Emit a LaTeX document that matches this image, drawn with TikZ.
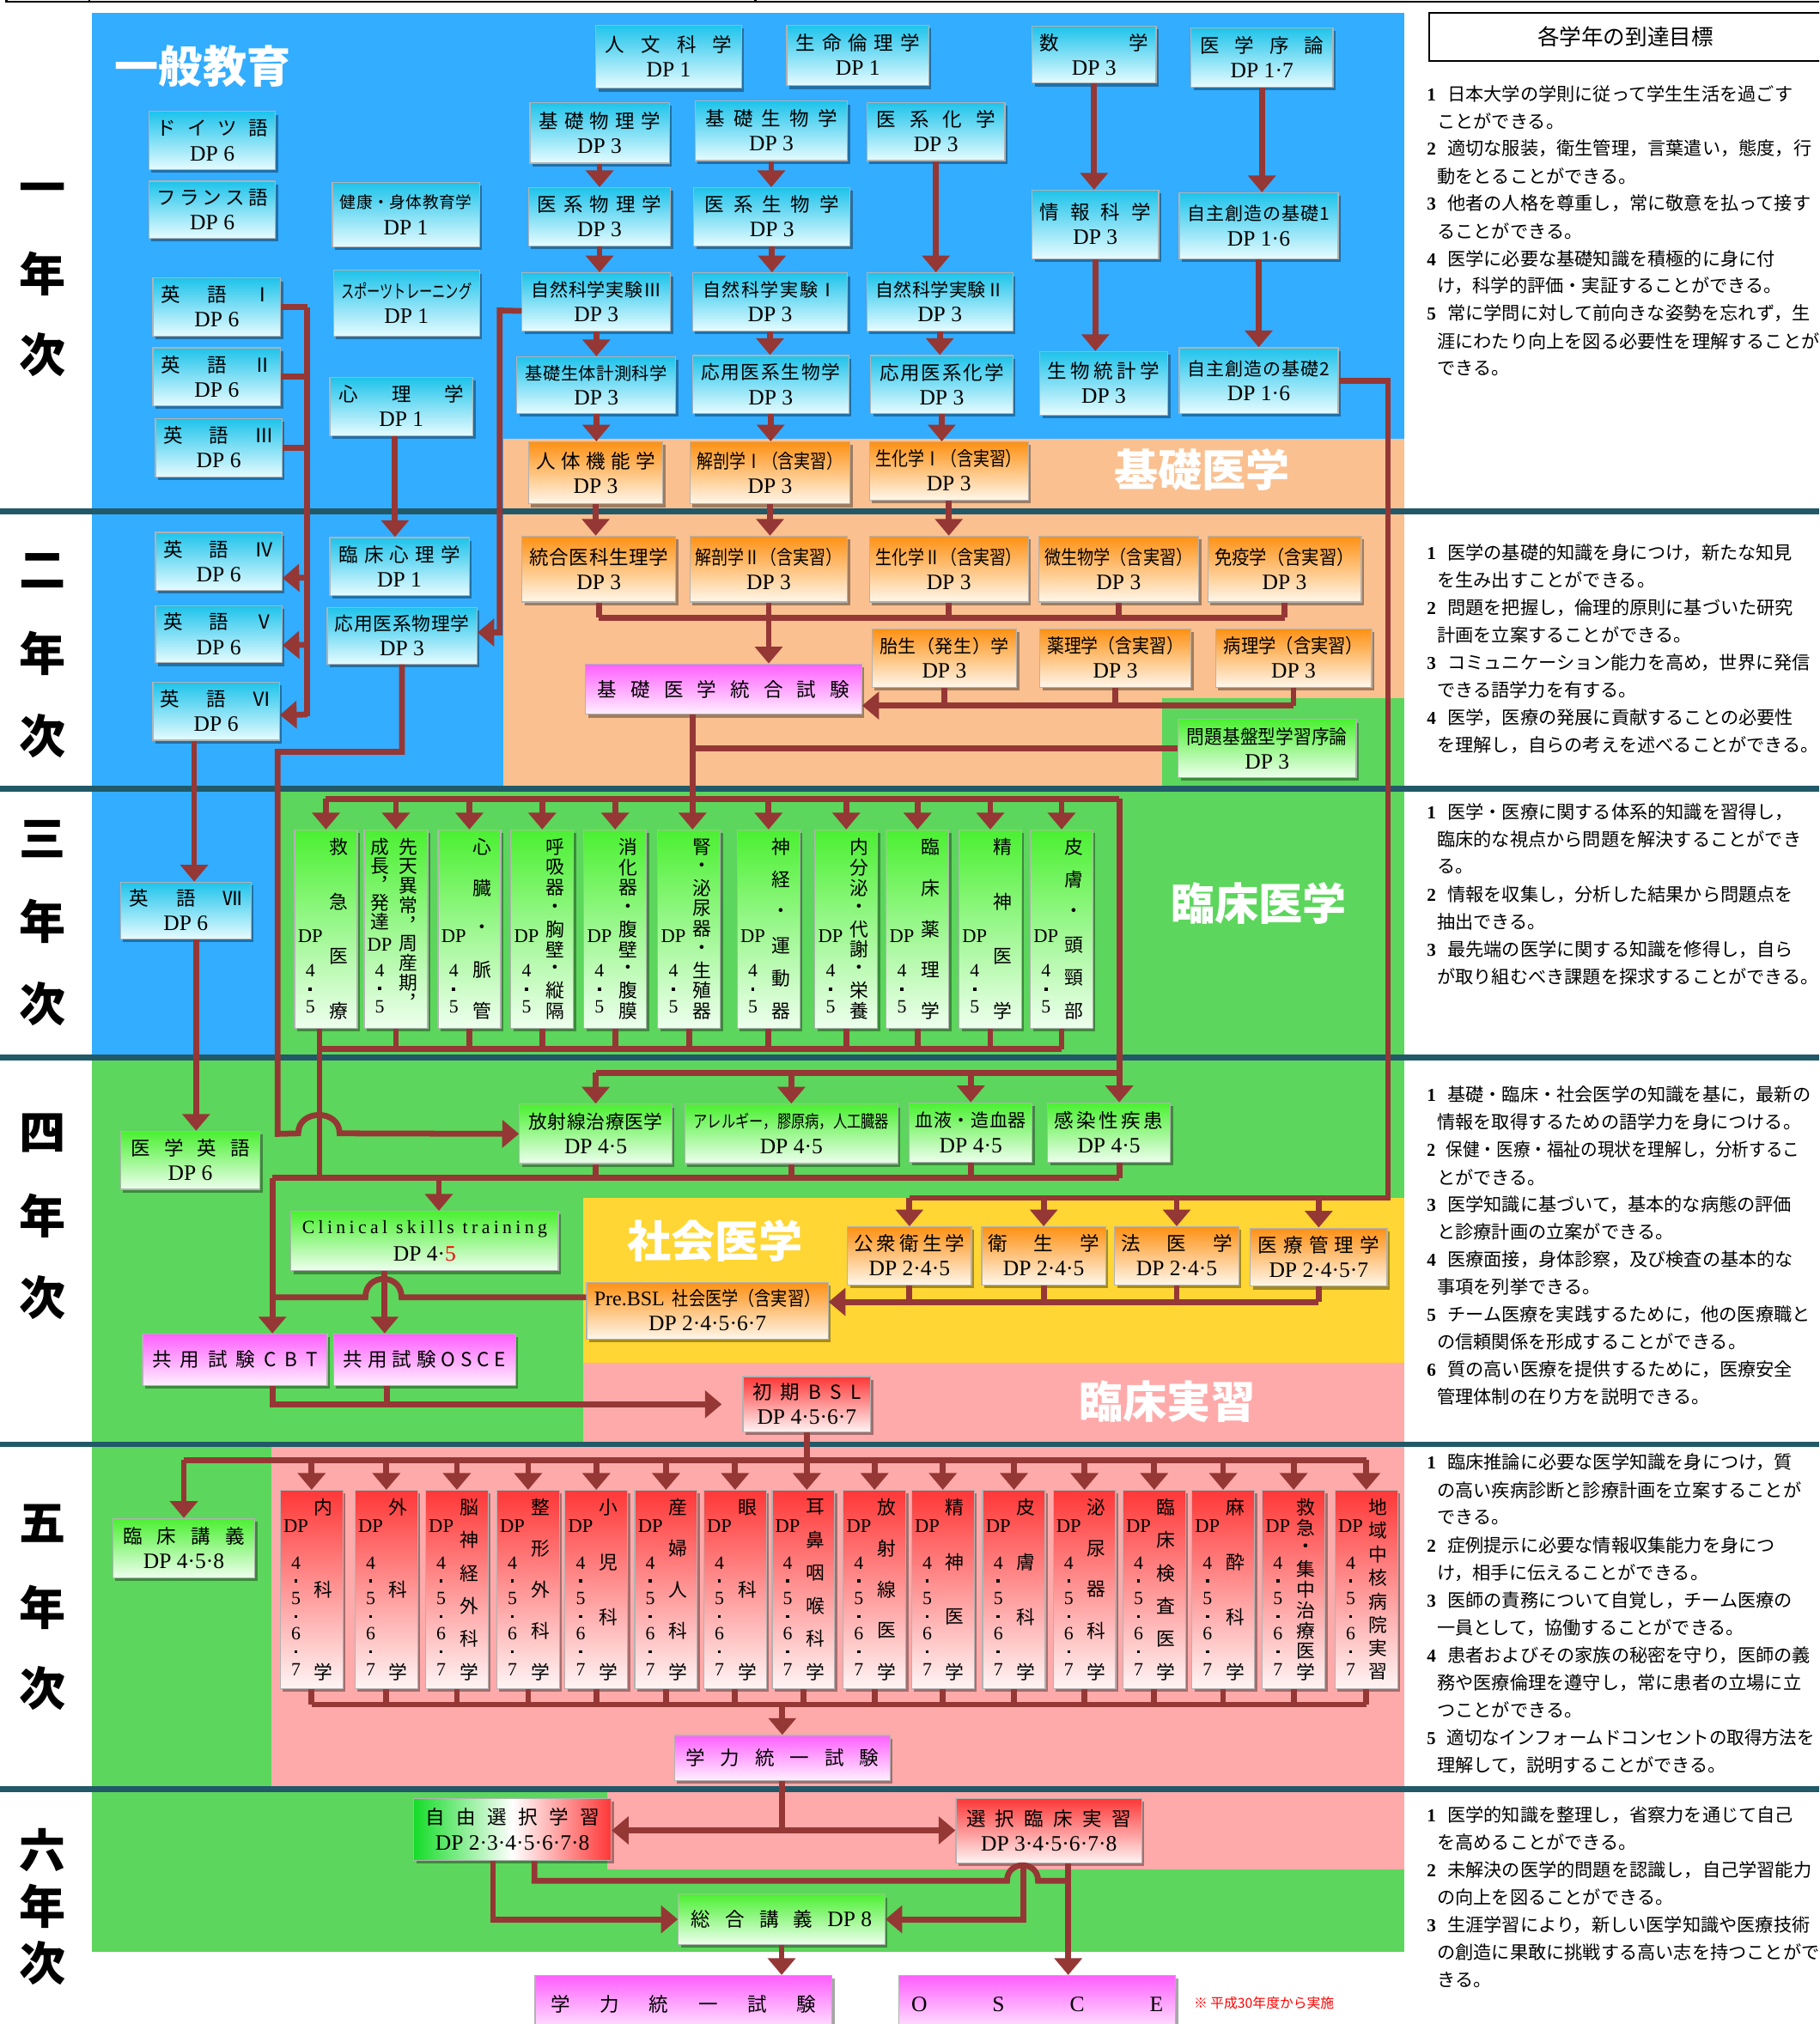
\documentclass[tikz,border=0pt]{standalone}
\usepackage{fontspec}
\usepackage{graphicx}
\setmainfont{Noto Sans CJK JP}
\newfontfamily\dpf{Liberation Serif}
\newfontfamily\dpfls[LetterSpace=20]{Liberation Serif}
\usetikzlibrary{arrows.meta,shadows}
\definecolor{bgBlue}{RGB}{51,173,255}
\definecolor{bgOrange}{RGB}{250,192,144}
\definecolor{bgGreen}{RGB}{92,214,92}
\definecolor{bgYellow}{RGB}{255,214,51}
\definecolor{bgPink}{RGB}{255,170,170}
\definecolor{sepC}{RGB}{33,89,104}
\definecolor{conC}{RGB}{149,55,53}
\definecolor{bTop}{RGB}{30,195,235}
\definecolor{bBot}{RGB}{230,252,255}
\definecolor{oTop}{RGB}{255,145,20}
\definecolor{oBot}{RGB}{255,247,235}
\definecolor{gTop}{RGB}{75,240,50}
\definecolor{gBot}{RGB}{238,255,238}
\definecolor{pTop}{RGB}{255,95,255}
\definecolor{pBot}{RGB}{255,240,255}
\definecolor{rTop}{RGB}{255,55,55}
\definecolor{rBot}{RGB}{255,245,245}
\definecolor{jG}{RGB}{20,220,40}
\newcommand\fs[1]{\fontsize{#1}{#1}\selectfont}
\def\sprEnd{\relax}
\def\sprA#1#2{#1\ifx\sprEnd#2\else\hfill\expandafter\sprA\expandafter#2\fi}
\newcommand\spr[2]{\makebox[#1pt][s]{\sprA#2\sprEnd}}
\newcommand\cnd[2]{\scalebox{#1}[1]{\fs{15}#2}}
\newcommand\dpn[1]{{\dpf\fs{17}DP #1}}
\newcommand\gnum[1]{\makebox[16pt][l]{\dpf\bfseries #1}}
\newcommand\gcont{\hspace*{8pt}}
\newcommand\dpdot{\rule{2.4pt}{2.4pt}}
\tikzset{
 box/.style={draw=black!30,line width=0.8pt,inner sep=0pt,drop shadow={shadow xshift=2pt,shadow yshift=-2.5pt,opacity=0.35,fill=black}},
 bb/.style={box,top color=bTop,bottom color=bBot},
 ob/.style={box,top color=oTop,bottom color=oBot},
 gb/.style={box,top color=gTop,bottom color=gBot},
 pb/.style={box,top color=pTop,bottom color=pBot},
 rb/.style={box,top color=rTop,bottom color=rBot},
 jb/.style={box,left color=jG,right color=rTop,middle color=white},
 txt/.style={inner sep=0pt,font=\fs{15}},
 vtxt/.style={inner sep=0pt,font=\fs{14.5}},
 dptxt/.style={inner sep=0pt,font=\dpf\fs{15}},
 hd/.style={inner sep=0pt,font=\fs{34}\bfseries,text=white},
 yl/.style={inner sep=0pt,font=\fs{36}\bfseries},
 goal/.style={anchor=west,inner sep=0pt,font=\fs{14.1}},
 conn/.style={draw=conC,line width=4.5pt},
 sep/.style={draw=sepC,line width=4.5pt},
}
\newcommand\bx[8]{%
  \node[#1,minimum width={#5-#3},minimum height={#6-#4},anchor=north west] (#2) at (#3,#4) {};
  \node[txt] (#2a) at ([yshift=9.5pt]#2.center) {#7};
  \node[txt] (#2b) at ([yshift=-10pt]#2.center) {#8};}
\newcommand\bxo[7]{%
  \node[#1,minimum width={#5-#3},minimum height={#6-#4},anchor=north west] (#2) at (#3,#4) {};
  \node[txt] (#2a) at (#2.center) {#7};}
% vertical column of characters: name, x, y of first centre, y of last centre, count, list
\newcommand\vcol[6]{%
  \pgfmathsetmacro\vstep{(#4-#3)/(#5-1)}%
  \node[vtxt,anchor=north] (#1) at ({#2},{#3-\vstep/2}) {\vbox{\offinterlineskip\foreach \ch in {#6}{\vbox to \vstep pt{\vss\hbox to 1.2em{\hss\ch\hss}\vss}}}};}
\newcommand\ythree[4]{%
  \node[gb,minimum width=48.5,minimum height=153.5,anchor=north west] (#1) at (#2,642.6) {};
  \vcol{#1r}{#2+34.5}{656}{783}{#3}{#4}%
  \node[dptxt] (#1d) at ({#2+12.5},725) {DP};
  \vcol{#1n}{#2+12.5}{752}{780}{3}{{\dpf 4},\dpdot,{\dpf 5}}}
\newcommand\yfive[4]{%
  \node[rb,minimum width=48.5,minimum height=153.7,anchor=north west] (#1) at (#2,1154.2) {};
  \vcol{#1r}{#2+34}{1167.5}{1295}{#3}{#4}%
  \node[dptxt] (#1d) at ({#2+12.5},1182) {DP};
  \vcol{#1n}{#2+12.5}{1211}{1293}{7}{{\dpf 4},\dpdot,{\dpf 5},\dpdot,{\dpf 6},\dpdot,{\dpf 7}}}
\newcommand\goals[3]{\foreach \gline [count=\i] in {#3}{\node[goal] (#1\i) at (1105,{#2+(\i-1)*21.3}) {\gline};}}
\newcommand\vdown[2]{\draw[conn,->] (#1.south) -- (#1.south |- #2.north);}
\begin{document}
\begin{tikzpicture}[x=1pt,y=-1pt,>={Triangle[width=21pt,length=13pt]},line join=miter]
\useasboundingbox (0,0) rectangle (1409,1568);
\clip (0,0) rectangle (1409,1568);
\fill[white] (0,0) rectangle (1409,1568);
% backgrounds
\fill[bgBlue] (71,10) rectangle (1088,396);
\fill[bgOrange] (390,340) rectangle (1088,396);
\fill[bgBlue] (71,396) rectangle (390,611);
\fill[bgOrange] (390,396) rectangle (1088,611);
\fill[bgGreen] (900,541) rectangle (1088,611);
\fill[bgBlue] (71,611) rectangle (213,819);
\fill[bgGreen] (213,611) rectangle (1088,819);
\fill[bgGreen] (71,819) rectangle (1088,928);
\fill[bgGreen] (71,928) rectangle (452,1119);
\fill[bgYellow] (452,928) rectangle (1088,1056);
\fill[bgPink] (452,1056) rectangle (1088,1119);
\fill[bgGreen] (71,1119) rectangle (210,1386);
\fill[bgPink] (210,1119) rectangle (1088,1386);
\fill[bgGreen] (71,1386) rectangle (1088,1512);
\fill[bgPink] (470,1386) rectangle (1088,1448);
\foreach \y in {396,611,819.5,1119,1386} \draw[sep] (0,\y) -- (1409,\y);
\draw[line width=1.5pt] (5,0) -- (5,1.5) -- (1409,1.5);
\draw[line width=1.5pt] (69,0) -- (69,1.5) (585,0) -- (585,1.5);
% header
\draw[line width=1.3pt] (1107,10) rectangle (1430,47);
\node[inner sep=0pt,font=\fs{17}] (hdr) at (1259,28.5) {各学年の到達目標};
% headings
\node[hd] (hd1) at (157,51) {一般教育};
\node[hd] (hd2) at (931,364) {基礎医学};
\node[hd] (hd3) at (975,700) {臨床医学};
\node[hd] (hd4) at (554,961) {社会医学};
\node[hd] (hd5) at (904,1086) {臨床実習};
% year labels
\foreach \t/\y [count=\k] in {一/150,年/212,次/275,二/442,年/506,次/570,三/650,年/714,次/778,四/878,年/942,次/1005,五/1180,年/1245,次/1308,六/1433,年/1477,次/1521}{
  \node[yl] (yl\k) at (33,\y) {\t};}
% ===== Year 1 boxes
\bx{bb}{doitsu}{115}{86}{213}{131}{\spr{86}{ドイツ語}}{\dpn{6}}
\bx{bb}{french}{115}{140}{213}{184}{\spr{86}{フランス語}}{\dpn{6}}
\bx{bb}{eng1}{118}{215}{217}{260}{\spr{86}{英語Ⅰ}}{\dpn{6}}
\bx{bb}{eng2}{118}{269}{217}{314}{\spr{86}{英語Ⅱ}}{\dpn{6}}
\bx{bb}{eng3}{120}{324}{218}{369}{\spr{86}{英語Ⅲ}}{\dpn{6}}
\bx{bb}{kenko}{257}{141}{371}{191}{\fs{12.5}\spr{102}{健康・身体教育学}}{\dpn{1}}
\bx{bb}{sports}{258}{209}{371}{260}{\scalebox{0.7}[1]{\fs{14.5}スポーツトレーニング}}{\dpn{1}}
\bx{bb}{shinri}{255}{292}{366}{337}{\spr{97}{心理学}}{\dpn{1}}
\bx{bb}{jinbun}{461}{19}{574}{68}{\spr{98}{人文科学}}{\dpn{1}}
\bx{bb}{seimei}{609}{19}{719}{66}{\spr{96}{生命倫理学}}{\dpn{1}}
\bx{bb}{kisobutsuri}{410}{79}{518}{126}{\spr{94}{基礎物理学}}{\dpn{3}}
\bx{bb}{kisoseibutsu}{538}{78}{656}{124}{\spr{102}{基礎生物学}}{\dpn{3}}
\bx{bb}{ikeikagaku}{671}{79}{778}{124}{\spr{92}{医系化学}}{\dpn{3}}
\bx{bb}{ikeibutsuri}{409}{145}{519}{190}{\spr{96}{医系物理学}}{\dpn{3}}
\bx{bb}{ikeiseibutsu}{537}{145}{658}{190}{\spr{104}{医系生物学}}{\dpn{3}}
\bx{bb}{shizen3}{404}{211}{519}{256}{\fs{14}\spr{101}{自然科学実験Ⅲ}}{\dpn{3}}
\bx{bb}{shizen1}{536}{211}{656}{256}{\fs{14}\spr{104}{自然科学実験Ⅰ}}{\dpn{3}}
\bx{bb}{shizen2}{671}{211}{784}{256}{\fs{14}\spr{100}{自然科学実験Ⅱ}}{\dpn{3}}
\bx{bb}{kisoseitai}{400}{276}{523}{320}{\fs{13.5}\spr{110}{基礎生体計測科学}}{\dpn{3}}
\bx{bb}{oyoseibutsu}{536}{275}{657}{320}{\fs{14.5}\spr{108}{応用医系生物学}}{\dpn{3}}
\bx{bb}{oyokagaku}{674}{275}{784}{320}{\spr{96}{応用医系化学}}{\dpn{3}}
\bx{bb}{sugaku}{799}{20}{895}{64}{\spr{84}{数学}}{\dpn{3}}
\bx{bb}{igakujoron}{922}{21}{1032}{67}{\spr{96}{医学序論}}{\dpn{1·7}}
\bx{bb}{joho}{799}{147}{897}{200}{\spr{86}{情報科学}}{\dpn{3}}
\bx{bb}{jishu1}{913}{149}{1036}{200}{\fs{14}\spr{110}{自主創造の基礎1}}{\dpn{1·6}}
\bx{bb}{seibututokei}{805}{272}{904}{321}{\spr{87}{生物統計学}}{\dpn{3}}
\bx{bb}{jishu2}{913}{269}{1036}{320}{\fs{14}\spr{110}{自主創造の基礎2}}{\dpn{1·6}}
\bx{ob}{jintai}{409}{342}{513}{390}{\spr{92}{人体機能学}}{\dpn{3}}
\bx{ob}{kaibou1}{534}{342}{658}{390}{\cnd{0.84}{解剖学Ⅰ（含実習）}}{\dpn{3}}
\bx{ob}{seika1}{673}{342}{796}{387}{\cnd{0.84}{生化学Ⅰ（含実習）}}{\dpn{3}}
% ===== Year 2 boxes
\bx{bb}{eng4}{120}{412}{218}{457}{\spr{86}{英語Ⅳ}}{\dpn{6}}
\bx{bb}{eng5}{120}{469}{218}{513}{\spr{86}{英語Ⅴ}}{\dpn{6}}
\bx{bb}{eng6}{118}{528}{216}{573}{\spr{86}{英語Ⅵ}}{\dpn{6}}
\bx{bb}{rinshoshinri}{255}{416}{363}{461}{\spr{94}{臨床心理学}}{\dpn{1}}
\bx{bb}{oyobutsuri}{253}{470}{369}{514}{\fs{14.5}\spr{104}{応用医系物理学}}{\dpn{3}}
\bx{ob}{togo}{404}{415}{523}{466}{\spr{108}{統合医科生理学}}{\dpn{3}}
\bx{ob}{kaibou2}{534}{415}{656}{466}{\cnd{0.84}{解剖学Ⅱ（含実習）}}{\dpn{3}}
\bx{ob}{seika2}{673}{415}{796}{466}{\cnd{0.84}{生化学Ⅱ（含実習）}}{\dpn{3}}
\bx{ob}{biseibutsu}{804}{415}{928}{466}{\cnd{0.85}{微生物学（含実習）}}{\dpn{3}}
\bx{ob}{meneki}{935}{415}{1054}{466}{\cnd{0.9}{免疫学（含実習）}}{\dpn{3}}
\bx{ob}{taisei}{675}{487}{787}{532}{\fs{14}\spr{100}{胎生（発生）学}}{\dpn{3}}
\bx{ob}{yakuri}{805}{487}{922}{532}{\cnd{0.88}{薬理学（含実習）}}{\dpn{3}}
\bx{ob}{byori}{941}{487}{1062}{532}{\cnd{0.9}{病理学（含実習）}}{\dpn{3}}
\bxo{pb}{kisotogo}{453}{514}{667}{553}{\spr{195}{基礎医学統合試験}}
\bx{gb}{mondai}{912}{557}{1050}{602}{\cnd{0.92}{問題基盤型学習序論}}{\dpn{3}}
% ===== Year 3 boxes
\bx{bb}{eng7}{93}{683}{194}{727}{\spr{88}{英語Ⅶ}}{\dpn{6}}
\ythree{y3b1}{227.8}{4}{救,急,医,療}
\node[gb,minimum width=49.3,minimum height=153.5,anchor=north west] (y3b2) at (281.6,642.6) {};
\vcol{y3b2r}{281.6+34.5}{656}{776}{9}{先,天,異,常,︐,周,産,期,︐}
\vcol{y3b2l}{281.6+12.5}{656}{714}{5}{成,長,︐,発,達}
\node[dptxt] (y3b2d) at (294.1,731.8) {DP};
\vcol{y3b2n}{294.1}{751.7}{779.5}{3}{{\dpf 4},\dpdot,{\dpf 5}}
\ythree{y3b3}{338.9}{5}{心,臓,・,脈,管}
\ythree{y3b4}{395.3}{9}{呼,吸,器,・,胸,壁,・,縦,隔}
\ythree{y3b5}{451.8}{9}{消,化,器,・,腹,壁,・,腹,膜}
\ythree{y3b6}{509.1}{9}{腎,・,泌,尿,器,・,生,殖,器}
\ythree{y3b7}{570.6}{6}{神,経,・,運,動,器}
\ythree{y3b8}{630.8}{9}{内,分,泌,・,代,謝,・,栄,養}
\ythree{y3b9}{686}{5}{臨,床,薬,理,学}
\ythree{y3b10}{742.4}{4}{精,神,医,学}
\ythree{y3b11}{797.6}{6}{皮,膚,・,頭,頸,部}
% ===== Year 4 boxes
\bx{gb}{igakueigo}{93}{876}{201}{921}{\spr{92}{医学英語}}{\dpn{6}}
\bx{gb}{hoshasen}{402}{855}{520}{901}{\fs{14.5}\spr{104}{放射線治療医学}}{\dpn{4·5}}
\bx{gb}{allergy}{530}{855}{695}{901}{\scalebox{0.8}[1]{\fs{13.5}アレルギー，膠原病，人工臓器}}{\dpn{4·5}}
\bx{gb}{ketsueki}{704}{854}{799}{900}{\fs{14}\spr{86}{血液・造血器}}{\dpn{4·5}}
\bx{gb}{kansen}{811}{854}{906}{900}{\spr{84}{感染性疾患}}{\dpn{4·5}}
\bx{gb}{clinical}{225}{938}{432}{984}{{\dpfls\fs{14.5}Clinical skills training}}{{\dpf\fs{17}DP 4·\textcolor{red}{5}}}
\bx{ob}{kosyu}{656}{950}{752}{995}{\spr{86}{公衆衛生学}}{\dpn{2·4·5}}
\bx{ob}{eisei}{760}{950}{856}{995}{\spr{86}{衛生学}}{\dpn{2·4·5}}
\bx{ob}{hoi}{863}{950}{959}{995}{\spr{86}{法医学}}{\dpn{2·4·5}}
\bx{ob}{iryokanri}{968}{951}{1074}{996}{\spr{94}{医療管理学}}{\dpn{2·4·5·7}}
\bx{ob}{prebsl}{454}{993}{641}{1037}{{\dpf\fs{16}Pre.BSL}\hspace{6pt}\cnd{0.85}{社会医学（含実習）}}{\dpn{2·4·5·6·7}}
\bxo{pb}{cbt}{110}{1033}{253}{1073}{\spr{128}{共用試験CBT}}
\bxo{pb}{osce4}{258}{1033}{399}{1073}{\spr{126}{共用試験OSCE}}
\bx{rb}{shokibsl}{575}{1066}{674}{1109}{\spr{84}{初期BSL}}{\dpn{4·5·6·7}}
% ===== Year 5 boxes
\bx{gb}{rinshokogi}{87}{1176}{197}{1222}{\spr{94}{臨床講義}}{\dpn{4·5·8}}
\yfive{y5b1}{216.7}{3}{内,科,学}
\yfive{y5b2}{274.6}{3}{外,科,学}
\yfive{y5b3}{329.2}{6}{脳,神,経,外,科,学}
\yfive{y5b4}{384.4}{5}{整,形,外,科,学}
\yfive{y5b5}{437.2}{4}{小,児,科,学}
\yfive{y5b6}{491.2}{5}{産,婦,人,科,学}
\yfive{y5b7}{544.7}{3}{眼,科,学}
\yfive{y5b8}{597.6}{6}{耳,鼻,咽,喉,科,学}
\yfive{y5b9}{652.7}{5}{放,射,線,医,学}
\yfive{y5b10}{705.6}{4}{精,神,医,学}
\yfive{y5b11}{760.7}{4}{皮,膚,科,学}
\yfive{y5b12}{815.3}{5}{泌,尿,器,科,学}
\yfive{y5b13}{869.3}{6}{臨,床,検,査,医,学}
\yfive{y5b14}{922.7}{4}{麻,酔,科,学}
\yfive{y5b15}{977.3}{9}{救,急,・,集,中,治,療,医,学}
\yfive{y5b16}{1033.6}{8}{地,域,中,核,病,院,実,習}
\bxo{pb}{gakuryoku5}{522}{1344}{689}{1379}{\spr{150}{学力統一試験}}
% ===== Year 6 boxes
\bx{jb}{jiyu}{320}{1393}{473}{1441}{\spr{135}{自由選択学習}}{\dpn{2·3·4·5·6·7·8}}
\bx{rb}{sentaku}{740}{1393}{884}{1443}{\spr{128}{選択臨床実習}}{\dpn{3·4·5·6·7·8}}
\bxo{gb}{sogo}{525}{1467}{685}{1506}{\makebox[140pt][s]{総\hfill 合\hfill 講\hfill 義\hfill{\dpf\fs{17}DP 8}}}
\bxo{pb}{gakuryoku6}{414}{1530}{644}{1575}{\spr{205}{学力統一試験}}
\bxo{pb}{osce6}{696}{1530}{910}{1575}{{\dpf\fs{17}\spr{195}{OSCE}}}
\node[inner sep=0pt,font=\fs{10.5},text=red] (note) at (979,1552) {※ 平成30年度から実施};
% ===== connectors year 1
\vdown{kisobutsuri}{ikeibutsuri}
\vdown{ikeibutsuri}{shizen3}
\vdown{shizen3}{kisoseitai}
\vdown{kisoseitai}{jintai}
\vdown{kisoseibutsu}{ikeiseibutsu}
\vdown{ikeiseibutsu}{shizen1}
\vdown{shizen1}{oyoseibutsu}
\vdown{oyoseibutsu}{kaibou1}
\vdown{ikeikagaku}{shizen2}
\vdown{shizen2}{oyokagaku}
\vdown{oyokagaku}{seika1}
\vdown{sugaku}{joho}
\vdown{joho}{seibututokei}
\vdown{igakujoron}{jishu1}
\vdown{jishu1}{jishu2}
\vdown{jintai}{togo}
\vdown{kaibou1}{kaibou2}
\vdown{seika1}{seika2}
\coordinate (s1) at ([xshift=-5pt]shinri.south);
\draw[conn,->] (s1) -- (s1 |- rinshoshinri.north);
\coordinate (sp1) at (238,0);
\foreach \n in {eng1,eng2,eng3} \draw[conn] (\n.east) -- (\n.east -| sp1);
\draw[conn] (eng1.east -| sp1) -- (238,555);
\draw[conn,->] (238,447.5) -- ([yshift=-13pt]eng4.east);
\draw[conn,->] (238,499.5) -- ([yshift=-8.5pt]eng5.east);
\draw[conn,->] (238,553.5) -- ([yshift=-3pt]eng6.east);
\coordinate (y490) at (0,490);
\draw[conn,->] ([yshift=-7pt]shizen3.west) -- (387,240.5) -- (387,490) -- (oyobutsuri.east |- y490);
\coordinate (e6) at ([xshift=-17pt]eng6.south);
\draw[conn,->] (e6) -- (e6 |- eng7.north);
\coordinate (e7) at ([xshift=8pt]eng7.south);
\draw[conn,->] (e7) -- (e7 |- igakueigo.north);
\coordinate (x215) at (215,0);
\coordinate (y582) at (0,582.4);
\draw[conn,->] (oyobutsuri.south) |- (x215 |- y582) -- (x215 |- hoshasen.west) -- (231,878) .. controls (231,859) and (263,859) .. (263,878) -- (hoshasen.west);
% year 2 collectors
\coordinate (c2a) at (0,478.5);
\foreach \n in {togo,kaibou2,seika2,biseibutsu,meneki} \draw[conn] (\n.south) -- (\n.south |- c2a);
\draw[conn] (togo.south |- c2a) -- (meneki.south |- c2a);
\draw[conn,->] (kaibou2.south |- c2a) -- (kaibou2.south |- kisotogo.north);
\coordinate (c2b) at (0,546.6);
\foreach \n in {taisei,yakuri,byori} \draw[conn] (\n.south) -- (\n.south |- c2b);
\draw[conn,->] (byori.south |- c2b) -- (kisotogo.east |- c2b);
\coordinate (k3) at ([xshift=-24pt]kisotogo.south);
\draw[conn] (mondai.west) -- (mondai.west -| k3);
\draw[conn,->] (k3) -- (k3 |- y3b6.north);
% year 3 distributor / collector
\coordinate (d3) at (0,619);
\coordinate (kx) at ([xshift=8pt]kansen.north);
\draw[conn] (d3 -| y3b1.north) -- (d3 -| kx);
\foreach \k in {1,2,3,4,5,7,8,9,10,11} \draw[conn,->] (d3 -| y3b\k.north) -- (y3b\k.north);
\draw[conn,->] (d3 -| kx) -- (kx);
\coordinate (c3) at (0,812.7);
\coordinate (c4) at (0,912.5);
\coordinate (b1s) at ([xshift=-5pt]y3b1.south);
\foreach \k in {2,...,11} \draw[conn] (y3b\k.south) -- (y3b\k.south |- c3);
\draw[conn] (b1s |- c3) -- (y3b11.south |- c3);
\draw[conn] (b1s) -- (b1s |- c4);
% year 4
\coordinate (d4) at (0,831);
\draw[conn] (d4 -| kx) -- (d4 -| hoshasen.north);
\foreach \n in {hoshasen,allergy,ketsueki} \draw[conn,->] (d4 -| \n.north) -- (\n.north);
\coordinate (x211) at (211,0);
\foreach \n in {hoshasen,allergy,ketsueki} \draw[conn] (\n.south) -- (\n.south |- c4);
\coordinate (kxs) at ([xshift=8pt]kansen.south);
\draw[conn] (kxs) -- (kxs |- c4);
\draw[conn] (x211 |- c4) -- (kxs |- c4);
\draw[conn,->] (x211 |- c4) -- (x211 |- cbt.north);
\coordinate (cl) at ([xshift=11pt]clinical.north);
\draw[conn,->] (cl |- c4) -- (cl);
\coordinate (d4b) at (0,928);
\coordinate (x1075) at (1075,0);
\draw[conn] (jishu2.east) -| (x1075 |- d4b) -- (d4b -| kosyu.north);
\foreach \n in {kosyu,eisei,hoi,iryokanri} \draw[conn,->] (d4b -| \n.north) -- (\n.north);
\coordinate (c4b) at (0,1008.6);
\foreach \n in {kosyu,eisei,hoi,iryokanri} \draw[conn] (\n.south) -- (\n.south |- c4b);
\draw[conn,->] (iryokanri.south |- c4b) -- (prebsl.east |- c4b);
\coordinate (y1005) at (0,1005);
\draw[conn] (prebsl.west |- y1005) -- (311,1005) .. controls (311,986) and (283,986) .. (283,1005) -- (x211 |- y1005);
\coordinate (co) at ([xshift=-31pt]clinical.south);
\draw[conn,->] (co) -- (co |- osce4.north);
\coordinate (cb) at (cbt.south -| x211);
\draw[conn,->] (cb) |- ([xshift=-16pt]shokibsl.west);
\coordinate (os) at ([xshift=-29pt]osce4.south);
\draw[conn] (os) -- (os |- shokibsl.west);
% year 5
\coordinate (d5) at (0,1131);
\draw[conn,->] (shokibsl.south) -- (shokibsl.south |- y5b8.north);
\draw[conn] (d5 -| rinshokogi.north) -- (d5 -| y5b16.north);
\foreach \k in {1,2,3,4,5,6,7,9,10,11,12,13,14,15,16} \draw[conn,->] (d5 -| y5b\k.north) -- (y5b\k.north);
\draw[conn,->] (d5 -| rinshokogi.north) -- (rinshokogi.north);
\coordinate (c5) at (0,1320.5);
\foreach \k in {1,...,16} \draw[conn] (y5b\k.south) -- (y5b\k.south |- c5);
\draw[conn] (y5b1.south |- c5) -- (y5b16.south |- c5);
\draw[conn,->] (gakuryoku5.north |- c5) -- (gakuryoku5.north);
% year 6
\coordinate (d6) at (0,1418);
\draw[conn] (gakuryoku5.south) -- (gakuryoku5.south |- d6);
\draw[conn,<->] (jiyu.east |- d6) -- (sentaku.west |- d6);
\coordinate (j1) at ([xshift=17pt]jiyu.south);
\coordinate (j2) at ([xshift=-15pt]jiyu.south);
\coordinate (s6a) at ([xshift=-20pt]sentaku.south);
\coordinate (s6b) at ([xshift=15pt]sentaku.south);
\coordinate (y1457) at (0,1457);
\draw[conn] (j1) |- (780,1457) .. controls (780,1441) and (804,1441) .. (804,1457) -- (s6b |- y1457);
\draw[conn,->] (j2) |- (sogo.west);
\draw[conn,->] (s6a) |- (sogo.east);
\draw[conn,->] (s6b) -- (s6b |- osce6.north);
\draw[conn,->] (sogo.south) -- (sogo.south |- gakuryoku6.north);
% ===== goals
\begin{scope}
\clip (1095,50) rectangle (1409,1568);
\goals{goalA}{72.5}{%
\gnum1日本大学の学則に従って学生生活を過ごす,%
\gcont ことができる。,%
\gnum2適切な服装，衛生管理，言葉遣い，態度，行,%
\gcont 動をとることができる。,%
\gnum3他者の人格を尊重し，常に敬意を払って接す,%
\gcont ることができる。,%
\gnum4医学に必要な基礎知識を積極的に身に付,%
\gcont け，科学的評価・実証することができる。,%
\gnum5常に学問に対して前向きな姿勢を忘れず，生,%
\gcont 涯にわたり向上を図る必要性を理解することが,%
\gcont できる。}
\goals{goalB}{428}{%
\gnum1医学の基礎的知識を身につけ，新たな知見,%
\gcont を生み出すことができる。,%
\gnum2問題を把握し，倫理的原則に基づいた研究,%
\gcont 計画を立案することができる。,%
\gnum3コミュニケーション能力を高め，世界に発信,%
\gcont できる語学力を有する。,%
\gnum4医学，医療の発展に貢献することの必要性,%
\gcont を理解し，自らの考えを述べることができる。}
\goals{goalC}{629}{%
\gnum1医学・医療に関する体系的知識を習得し，,%
\gcont 臨床的な視点から問題を解決することができ,%
\gcont る。,%
\gnum2情報を収集し，分析した結果から問題点を,%
\gcont 抽出できる。,%
\gnum3最先端の医学に関する知識を修得し，自ら,%
\gcont が取り組むべき課題を探求することができる。}
\goals{goalD}{848}{%
\gnum1基礎・臨床・社会医学の知識を基に，最新の,%
\gcont 情報を取得するための語学力を身につける。,%
\scalebox{0.925}[1]{\gnum2保健・医療・福祉の現状を理解し，分析するこ},%
\gcont とができる。,%
\gnum3医学知識に基づいて，基本的な病態の評価,%
\gcont と診療計画の立案ができる。,%
\gnum4医療面接，身体診察，及び検査の基本的な,%
\gcont 事項を列挙できる。,%
\gnum5チーム医療を実践するために，他の医療職と,%
\gcont の信頼関係を形成することができる。,%
\gnum6質の高い医療を提供するために，医療安全,%
\gcont 管理体制の在り方を説明できる。}
\goals{goalE}{1133}{%
\gnum1臨床推論に必要な医学知識を身につけ，質,%
\gcont の高い疾病診断と診療計画を立案することが,%
\gcont できる。,%
\gnum2症例提示に必要な情報収集能力を身につ,%
\gcont け，相手に伝えることができる。,%
\gnum3医師の責務について自覚し，チーム医療の,%
\gcont 一員として，協働することができる。,%
\gnum4患者およびその家族の秘密を守り，医師の義,%
\gcont 務や医療倫理を遵守し，常に患者の立場に立,%
\gcont つことができる。,%
\scalebox{0.965}[1]{\gnum5適切なインフォームドコンセントの取得方法を},%
\gcont 理解して，説明することができる。}
\goals{goalF}{1406}{%
\gnum1医学的知識を整理し，省察力を通じて自己,%
\gcont を高めることができる。,%
\gnum2未解決の医学的問題を認識し，自己学習能力,%
\gcont の向上を図ることができる。,%
\gnum3生涯学習により，新しい医学知識や医療技術,%
\gcont の創造に果敢に挑戦する高い志を持つことがで,%
\gcont きる。}
\end{scope}
\end{tikzpicture}
\end{document}
